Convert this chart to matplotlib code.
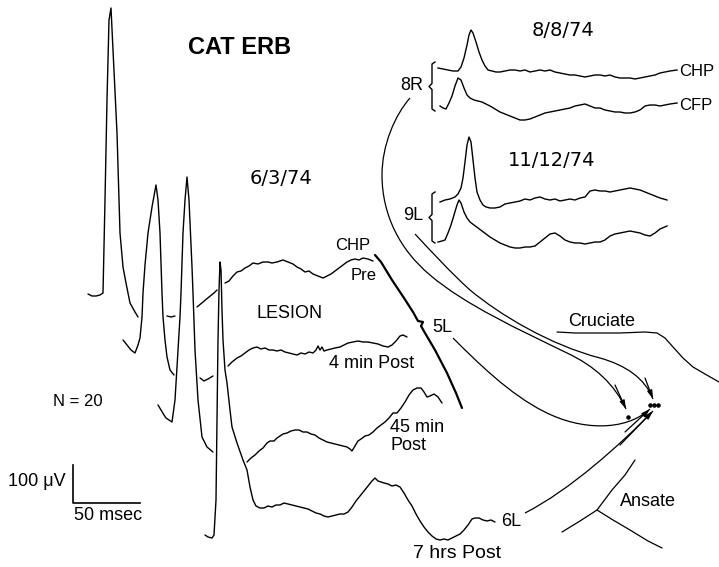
import matplotlib.pyplot as plt
from matplotlib.path import Path
from matplotlib.patches import PathPatch

# Averaged evoked responses, drawn in page units (x right, y down)
# 6/3/74 series: each trace broken where it passes behind another one
pre_trace = [
    [(88, 294), (92, 296), (96, 296), (100, 295), (103, 293), (105, 200), (107, 100), (109, 20), (111, 8),
     (113, 50), (117, 133), (120, 233), (123, 267), (126, 283), (128, 293), (130, 303), (135, 312), (138, 317)],
    [(167, 316), (171, 317), (175, 316)],
    [(197, 307), (203, 302), (209, 297), (214, 293), (217, 290)],
    [(225, 283), (229, 281), (233, 276), (237, 272), (241, 271), (245, 268), (249, 266), (253, 263), (258, 264),
     (263, 262), (268, 262), (272, 263), (277, 262), (283, 260), (288, 262), (293, 264), (297, 267), (301, 269),
     (305, 272), (309, 271), (313, 274), (318, 276), (323, 278), (327, 276), (331, 274), (335, 271), (339, 268),
     (343, 265), (347, 262), (351, 260), (355, 259), (359, 260), (363, 258), (368, 259), (373, 261)],
]
post4_trace = [
    [(123, 340), (127, 345), (131, 350), (135, 353), (138, 345), (140, 338), (142, 317), (143, 293), (145, 265),
     (148, 233), (152, 207), (156, 185), (158, 200), (160, 233), (162, 293), (163, 317), (165, 340), (167, 357),
     (170, 370), (174, 375)],
    [(200, 378), (204, 381), (208, 379), (213, 376)],
    [(228, 366), (232, 362), (237, 358), (241, 356), (245, 353), (249, 350), (253, 348), (257, 347), (261, 349),
     (265, 348), (269, 350), (273, 350), (277, 351), (281, 350), (285, 352), (289, 353), (293, 354), (297, 355),
     (301, 353), (305, 354), (309, 352), (313, 353), (316, 350), (318, 346), (320, 350), (322, 347), (324, 351),
     (327, 350), (331, 349), (335, 348), (340, 347), (344, 345), (348, 343), (353, 342), (358, 341), (363, 342),
     (368, 342), (373, 343), (378, 344), (383, 346), (388, 347), (392, 345), (396, 341), (400, 336), (403, 335),
     (407, 337)],
]
post45_trace = [
    [(158, 405), (161, 410), (164, 415), (166, 418), (169, 420), (172, 422), (175, 400), (177, 367), (180, 317),
     (181, 293), (183, 233), (185, 200), (187, 177), (189, 200), (192, 267), (193, 293), (195, 350), (198, 400),
     (202, 437), (207, 447), (213, 452)],
    [(247, 462), (251, 458), (255, 455), (259, 451), (263, 448), (267, 443), (270, 441), (274, 441), (277, 438),
     (280, 436), (283, 434), (287, 433), (291, 431), (295, 430), (299, 430), (303, 432), (307, 432), (311, 434),
     (315, 435), (319, 438), (323, 440), (327, 442), (331, 443), (335, 444), (339, 445), (343, 446), (347, 447),
     (350, 449), (352, 451), (355, 446), (358, 441), (361, 439), (365, 436), (369, 435), (373, 432), (377, 428),
     (381, 425), (385, 422), (389, 418), (393, 413), (397, 413), (401, 408), (405, 402), (409, 395), (413, 390),
     (417, 388), (421, 388), (424, 392), (427, 397), (430, 396), (434, 394), (438, 397), (442, 403)],
]
post7h_trace = [
    [(205, 535), (208, 537), (212, 538), (214, 535), (216, 500), (217, 420), (218, 340), (219, 290), (220, 262),
     (221, 270), (222, 310), (223, 340), (225, 370), (227, 383), (230, 410), (232, 427), (237, 443), (243, 460),
     (247, 470), (250, 487), (253, 500), (256, 506), (260, 508), (264, 508), (268, 506), (272, 507), (276, 505),
     (280, 505), (284, 503), (288, 504), (292, 505), (296, 506), (300, 507), (304, 508), (308, 509), (312, 511),
     (316, 513), (320, 514), (324, 516), (328, 517), (332, 516), (336, 515), (340, 514), (344, 514), (348, 512),
     (352, 507), (356, 501), (360, 496), (364, 491), (368, 486), (372, 481), (375, 478), (378, 481), (381, 482),
     (384, 483), (388, 484), (392, 486), (396, 485), (400, 487), (404, 493), (408, 500), (412, 506), (416, 514),
     (420, 521), (424, 527), (428, 532), (432, 536), (436, 539), (440, 540), (444, 539), (448, 540), (452, 538),
     (456, 536), (460, 534), (464, 530), (468, 525), (472, 519), (475, 518), (479, 518), (483, 520), (487, 521),
     (491, 520), (495, 522)],
]

# 8/8/74, electrode 8R
chp_8r_x = [438, 443, 448, 453, 458, 461, 464, 467, 469, 471, 473, 476, 479, 482, 485, 488, 492, 496, 500, 505,
            510, 515, 520, 525, 530, 535, 540, 545, 550, 555, 560, 565, 570, 575, 580, 585, 590, 595, 600, 605,
            610, 615, 620, 625, 630, 635, 640, 645, 650, 655, 660, 665, 670, 677]
chp_8r_y = [68, 69, 70, 71, 71, 67, 58, 45, 35, 30, 33, 42, 52, 60, 66, 70, 71, 72, 72, 71,
            70, 70, 71, 70, 72, 71, 70, 71, 70, 72, 73, 74, 75, 75, 76, 77, 76, 75, 75, 76,
            75, 77, 78, 78, 78, 79, 78, 77, 76, 75, 73, 72, 71, 70]
cfp_8r_x = [440, 443, 446, 449, 452, 455, 458, 461, 464, 467, 470, 474, 478, 482, 486, 490, 495, 500, 505, 510,
            515, 520, 525, 530, 535, 540, 545, 550, 555, 560, 565, 570, 575, 580, 585, 590, 595, 600, 605, 610,
            615, 620, 625, 630, 635, 640, 645, 650, 655, 660, 665, 670, 677]
cfp_8r_y = [106, 108, 109, 103, 96, 86, 78, 80, 88, 95, 98, 100, 101, 102, 104, 106, 109, 112, 114, 116,
            118, 120, 120, 119, 117, 115, 113, 112, 111, 110, 109, 108, 106, 105, 104, 106, 108, 108, 110, 111,
            112, 112, 113, 113, 112, 110, 106, 105, 105, 106, 105, 104, 103]

# 11/12/74, electrode 9L
chp_9l_x = [440, 445, 450, 455, 458, 461, 463, 465, 467, 469, 471, 473, 475, 477, 480, 483, 486, 490, 495, 500,
            505, 510, 515, 520, 525, 530, 535, 540, 545, 550, 555, 560, 565, 570, 575, 580, 585, 590, 595, 600,
            605, 610, 615, 620, 625, 630, 635, 640, 645, 650, 655, 660, 667]
chp_9l_y = [202, 200, 199, 197, 194, 188, 178, 162, 145, 137, 142, 160, 178, 192, 200, 205, 207, 208, 208, 207,
            204, 203, 202, 201, 199, 200, 198, 197, 199, 200, 199, 201, 200, 199, 200, 198, 197, 191, 190, 191,
            191, 192, 191, 190, 189, 188, 189, 190, 192, 194, 196, 198, 200]
cfp_9l_x = [438, 442, 445, 448, 451, 454, 457, 459, 461, 464, 467, 470, 474, 478, 482, 486, 490, 495, 500, 505,
            510, 515, 520, 525, 530, 535, 540, 545, 550, 555, 560, 565, 570, 575, 580, 585, 590, 595, 600, 605,
            610, 615, 620, 625, 630, 635, 640, 645, 650, 655, 660, 667]
cfp_9l_y = [242, 241, 240, 233, 225, 215, 205, 200, 203, 212, 218, 222, 225, 228, 231, 234, 237, 240, 243, 245,
            247, 248, 248, 247, 247, 246, 242, 238, 234, 233, 236, 240, 242, 243, 243, 244, 243, 242, 242, 240,
            236, 234, 233, 232, 231, 232, 233, 235, 236, 233, 229, 226]

# lesion track and sulci
lesion_track = [(375, 255), (381, 262), (392, 280), (404, 298), (413, 312), (418, 321), (423, 322), (421, 326),
                (425, 333), (435, 350), (447, 373), (456, 393), (460, 403), (462, 408)]
cruciate = [(557, 332), (575, 333), (593, 333), (620, 333), (645, 332), (657, 333), (665, 338), (673, 347),
            (683, 358), (693, 367), (705, 374), (719, 382)]
ansate = [(635, 460), (625, 475), (612, 490), (597, 510), (580, 521), (562, 532)]
ansate_branch = [(597, 510), (613, 520), (630, 530), (648, 541), (662, 548)]

# electrode sites
site_dots = [(628, 417), (650, 405), (654, 405), (658, 405)]

# curves from each electrode label to its site (cubic bezier control points)
arc_8r = [(410, 98), (395, 115), (382, 145), (382, 175),
          (382, 215), (400, 250), (430, 275),
          (465, 305), (520, 330), (567, 353),
          (595, 366), (615, 385), (626, 409)]
arc_9l = [(415, 234), (430, 250), (450, 272), (470, 290),
          (500, 315), (550, 345), (600, 358),
          (625, 365), (645, 378), (653, 399)]
arc_5l = [(453, 338), (475, 360), (510, 395), (545, 412),
          (580, 430), (625, 432), (650, 409)]
arc_6l = [(525, 513), (570, 490), (620, 445), (653, 411)]


def draw_segments(ax, segments, lw=1.0):
    for seg in segments:
        xs, ys = zip(*seg)
        ax.plot(xs, ys, color="black", lw=lw, solid_capstyle="round", solid_joinstyle="round")


def draw_arc(ax, pts):
    codes = [Path.MOVETO] + [Path.CURVE4] * (len(pts) - 1)
    ax.add_patch(PathPatch(Path(pts, codes), fill=False, lw=0.9, color="black"))
    ax.annotate("", xy=pts[-1], xytext=pts[-2],
                arrowprops=dict(arrowstyle="-|>,head_length=0.5,head_width=0.15", color="black", lw=0.9,
                                shrinkA=0, shrinkB=0))


def draw_brace(ax, x, top, bottom):
    mid = (top + bottom) / 2
    xs = [x + 3, x, x, x - 3, x, x, x + 3]
    ys = [top, top + 2, mid - 3, mid, mid + 3, bottom - 2, bottom]
    ax.plot(xs, ys, color="black", lw=1.0)


plt.rcParams["font.family"] = ["Liberation Sans", "DejaVu Sans"]
fig = plt.figure(figsize=(7.19, 5.67), dpi=100)
ax = fig.add_axes([0, 0, 1, 1])
ax.set_xlim(0, 719)
ax.set_ylim(567, 0)
ax.axis("off")

for tr in (pre_trace, post4_trace, post45_trace, post7h_trace):
    draw_segments(ax, tr)

for xs, ys in ((chp_8r_x, chp_8r_y), (cfp_8r_x, cfp_8r_y), (chp_9l_x, chp_9l_y), (cfp_9l_x, cfp_9l_y)):
    ax.plot(xs, ys, color="black", lw=1.0)

draw_brace(ax, 432, 62, 111)
draw_brace(ax, 432, 192, 243)

draw_segments(ax, [lesion_track], lw=1.6)
draw_segments(ax, [cruciate, ansate, ansate_branch], lw=0.9)

for arc in (arc_8r, arc_9l, arc_5l, arc_6l):
    draw_arc(ax, arc)

dx, dy = zip(*site_dots)
ax.scatter(dx, dy, s=5, color="black", zorder=3)

# calibration bar
ax.plot([73, 73, 140], [465, 503, 503], color="black", lw=1.2)

kw = dict(ha="center", va="center", color="black")
ax.text(240, 48, "CAT ERB", fontsize=17, fontweight="bold", **kw)
ax.text(563, 30, "8/8/74", fontsize=14, family="DejaVu Sans", **kw)
ax.text(281, 178, "6/3/74", fontsize=14, family="DejaVu Sans", **kw)
ax.text(552, 161, "11/12/74", fontsize=14, family="DejaVu Sans", **kw)
ax.text(412, 86, "8R", fontsize=13, **kw)
ax.text(413, 216, "9L", fontsize=13, **kw)
ax.text(679, 71, "CHP", fontsize=12, ha="left", va="center")
ax.text(679, 106, "CFP", fontsize=12, ha="left", va="center")
ax.text(353, 245, "CHP", fontsize=12, **kw)
ax.text(364, 275, "Pre", fontsize=12, **kw)
ax.text(290, 313, "LESION", fontsize=13, **kw)
ax.text(442, 328, "5L", fontsize=13, **kw)
ax.text(372, 363, "4 min Post", fontsize=13, **kw)
ax.text(390, 428, "45 min", fontsize=13, ha="left", va="center")
ax.text(390, 446, "Post", fontsize=13, ha="left", va="center")
ax.text(457, 554, "7 hrs Post", fontsize=14, **kw)
ax.text(511, 521, "6L", fontsize=13, **kw)
ax.text(602, 321, "Cruciate", fontsize=13, **kw)
ax.text(648, 502, "Ansate", fontsize=13, **kw)
ax.text(78, 401, "N = 20", fontsize=12, **kw)
ax.text(37, 482, "100 μV", fontsize=13, **kw)
ax.text(108, 516, "50 msec", fontsize=13, **kw)

fig.savefig("out.png", dpi=100)
